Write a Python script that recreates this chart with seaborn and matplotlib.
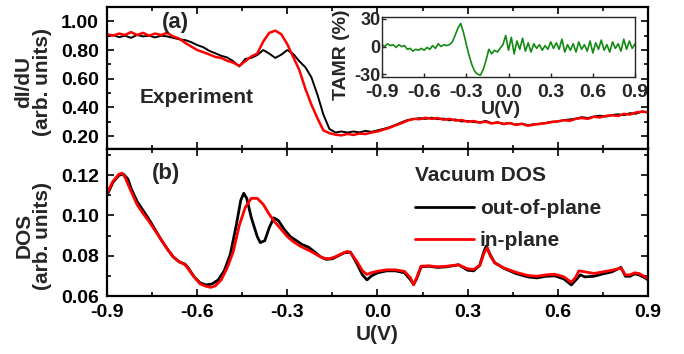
import numpy as np
import seaborn as sns
import matplotlib
matplotlib.use("Agg")
import matplotlib.pyplot as plt
from matplotlib.ticker import MultipleLocator, FormatStrFormatter

# ---- experiment (a): dI/dU, sampled every 0.02 V from -0.9 to 0.9
u_exp = np.round(np.linspace(-0.9, 0.9, 91), 2)
didu_out = [
    0.895, 0.905, 0.890, 0.900, 0.885, 0.905, 0.895, 0.900, 0.888, 0.900,
    0.895, 0.885, 0.875, 0.870, 0.855, 0.835, 0.820, 0.795, 0.778, 0.760,
    0.748, 0.722, 0.685, 0.738, 0.745, 0.765, 0.800, 0.775, 0.745, 0.768,
    0.800, 0.772, 0.722, 0.680, 0.610, 0.490, 0.350, 0.250, 0.225, 0.232,
    0.225, 0.232, 0.226, 0.236, 0.230, 0.240, 0.250, 0.262, 0.278, 0.296,
    0.312, 0.318, 0.325, 0.320, 0.328, 0.318, 0.322, 0.310, 0.316, 0.302,
    0.306, 0.298, 0.295, 0.306, 0.290, 0.296, 0.285, 0.292, 0.280, 0.287,
    0.276, 0.282, 0.286, 0.292, 0.300, 0.302, 0.312, 0.316, 0.322, 0.332,
    0.326, 0.336, 0.342, 0.336, 0.347, 0.352, 0.346, 0.360, 0.356, 0.372,
    0.366,
]
didu_in = [
    0.910, 0.900, 0.915, 0.905, 0.925, 0.905, 0.920, 0.900, 0.915, 0.905,
    0.920, 0.895, 0.880, 0.850, 0.825, 0.800, 0.785, 0.770, 0.752, 0.745,
    0.725, 0.712, 0.690, 0.722, 0.755, 0.775, 0.860, 0.920, 0.935, 0.910,
    0.840, 0.750, 0.660, 0.530, 0.420, 0.325, 0.240, 0.220, 0.210, 0.205,
    0.215, 0.208, 0.218, 0.214, 0.225, 0.232, 0.245, 0.258, 0.275, 0.290,
    0.308, 0.320, 0.318, 0.328, 0.320, 0.326, 0.314, 0.320, 0.308, 0.312,
    0.300, 0.305, 0.294, 0.300, 0.288, 0.295, 0.284, 0.290, 0.278, 0.285,
    0.272, 0.280, 0.285, 0.290, 0.298, 0.303, 0.310, 0.307, 0.320, 0.326,
    0.320, 0.335, 0.330, 0.341, 0.345, 0.340, 0.355, 0.350, 0.365, 0.370,
    0.366,
]
tamr = [
    2, 0, 3, 1, 2, -1, 2, 0, 1, -3,
    -2, -5, -3, -4, -2, -4, -1, -3, 1, -2,
    3, 0, 2, 1, 2, 5, 12, 20, 25, 15,
    2, -10, -20, -27, -30, -31, -25, -15, -3, -8,
    -4, -6, -2, 2, 12, -4, 10, -8, 6, -3,
    9, -5, 4, -6, 3, -2, 2, -4, 1, -3,
    5, -2, 4, -3, 8, -6, 2, -4, 3, -6,
    5, -3, 2, -5, 6, -7, 4, -3, 7, -4,
    2, -6, 5, -2, 3, -5, 8, -3, 6, -2,
    3,
]

# ---- theory (b): vacuum DOS
u_dos_out = [
    -0.90, -0.88, -0.86, -0.845, -0.83, -0.82, -0.80, -0.78, -0.76, -0.74,
    -0.72, -0.70, -0.68, -0.66, -0.64, -0.63, -0.61, -0.59, -0.57, -0.55,
    -0.53, -0.51, -0.49, -0.47, -0.455, -0.445, -0.435, -0.42, -0.40, -0.39,
    -0.375, -0.36, -0.345, -0.33, -0.31, -0.29, -0.27, -0.25, -0.23, -0.21,
    -0.19, -0.17, -0.15, -0.13, -0.11, -0.09, -0.07, -0.05, -0.035, -0.02,
    0.00, 0.03, 0.06, 0.09, 0.11, 0.12, 0.13, 0.145, 0.17, 0.20,
    0.23, 0.27, 0.30, 0.32, 0.34, 0.355, 0.362, 0.375, 0.39, 0.42,
    0.46, 0.50, 0.53, 0.56, 0.59, 0.62, 0.645, 0.66, 0.675, 0.69,
    0.72, 0.75, 0.78, 0.80, 0.81, 0.825, 0.84, 0.855, 0.87, 0.89, 0.90,
]
dos_out = [
    0.1100, 0.1165, 0.1200, 0.1205, 0.1180, 0.1135, 0.1070, 0.1025, 0.0980, 0.0930,
    0.0880, 0.0835, 0.0795, 0.0770, 0.0758, 0.0740, 0.0695, 0.0665, 0.0655, 0.0660,
    0.0680, 0.0725, 0.0805, 0.0950, 0.1075, 0.1110, 0.1085, 0.0990, 0.0895, 0.0865,
    0.0875, 0.0940, 0.0988, 0.0975, 0.0930, 0.0895, 0.0875, 0.0855, 0.0843, 0.0820,
    0.0795, 0.0782, 0.0785, 0.0800, 0.0815, 0.0818, 0.0765, 0.0705, 0.0680, 0.0700,
    0.0715, 0.0725, 0.0725, 0.0715, 0.0680, 0.0658, 0.0685, 0.0745, 0.0748, 0.0742,
    0.0745, 0.0755, 0.0728, 0.0725, 0.0752, 0.0825, 0.0848, 0.0805, 0.0765, 0.0738,
    0.0712, 0.0695, 0.0690, 0.0698, 0.0700, 0.0685, 0.0655, 0.0680, 0.0705, 0.0695,
    0.0698, 0.0710, 0.0720, 0.0735, 0.0742, 0.0698, 0.0698, 0.0710, 0.0705, 0.0690, 0.0680,
]
u_dos_in = [
    -0.90, -0.88, -0.86, -0.85, -0.84, -0.82, -0.80, -0.78, -0.76, -0.74,
    -0.72, -0.70, -0.68, -0.66, -0.64, -0.63, -0.61, -0.59, -0.57, -0.555,
    -0.54, -0.52, -0.50, -0.48, -0.46, -0.44, -0.42, -0.40, -0.38, -0.36,
    -0.34, -0.32, -0.30, -0.28, -0.26, -0.24, -0.22, -0.20, -0.18, -0.16,
    -0.14, -0.12, -0.10, -0.09, -0.07, -0.05, -0.035, -0.02, 0.00, 0.03,
    0.06, 0.09, 0.11, 0.12, 0.13, 0.145, 0.17, 0.20, 0.23, 0.27,
    0.30, 0.32, 0.34, 0.355, 0.365, 0.375, 0.39, 0.42, 0.46, 0.50,
    0.53, 0.56, 0.59, 0.62, 0.645, 0.66, 0.67, 0.69, 0.72, 0.75,
    0.78, 0.80, 0.81, 0.825, 0.84, 0.855, 0.87, 0.89, 0.90,
]
dos_in = [
    0.1110, 0.1170, 0.1205, 0.1210, 0.1190, 0.1120, 0.1055, 0.1010, 0.0970, 0.0925,
    0.0880, 0.0835, 0.0795, 0.0770, 0.0755, 0.0735, 0.0695, 0.0660, 0.0648, 0.0643,
    0.0650, 0.0680, 0.0740, 0.0820, 0.0950, 0.1040, 0.1085, 0.1085, 0.1055, 0.1005,
    0.0965, 0.0930, 0.0895, 0.0870, 0.0850, 0.0835, 0.0820, 0.0803, 0.0788, 0.0785,
    0.0795, 0.0810, 0.0822, 0.0815, 0.0775, 0.0725, 0.0707, 0.0716, 0.0723, 0.0730,
    0.0730, 0.0722, 0.0690, 0.0655, 0.0690, 0.0748, 0.0750, 0.0745, 0.0748, 0.0755,
    0.0735, 0.0732, 0.0752, 0.0815, 0.0840, 0.0800, 0.0765, 0.0740, 0.0718, 0.0702,
    0.0698, 0.0705, 0.0708, 0.0695, 0.0668, 0.0695, 0.0725, 0.0720, 0.0712, 0.0720,
    0.0728, 0.0735, 0.0738, 0.0705, 0.0705, 0.0715, 0.0712, 0.0695, 0.0685,
]

sns.set_theme(style="ticks")
plt.rcParams["font.family"] = ["Liberation Sans", "DejaVu Sans"]
plt.rcParams["font.weight"] = "bold"
plt.rcParams["axes.labelweight"] = "bold"
plt.rcParams["axes.unicode_minus"] = False

RED = "#ff0000"
GREEN = "#138a13"


def style_axis(ax, lw=1.6, labelsize=14):
    for s in ax.spines.values():
        s.set_linewidth(lw)
        s.set_color("black")
    ax.tick_params(which="both", direction="in", top=True, right=True,
                   colors="black", labelsize=labelsize, width=1.2)
    ax.tick_params(which="major", length=5, pad=6)
    ax.tick_params(which="minor", length=3)


fig = plt.figure(figsize=(6.84, 3.54), dpi=100)
ax1 = fig.add_axes([0.1564, 0.5791, 0.791, 0.4011])
ax2 = fig.add_axes([0.1564, 0.1638, 0.791, 0.4153])
axin = fig.add_axes([0.5585, 0.7825, 0.3699, 0.1695])

# (a) experiment
sns.lineplot(x=u_exp, y=didu_out, ax=ax1, color="black", lw=1.4)
sns.lineplot(x=u_exp, y=didu_in, ax=ax1, color=RED, lw=1.8)
ax1.set_xlim(-0.9, 0.9)
ax1.set_ylim(0.11, 1.10)
ax1.xaxis.set_major_locator(MultipleLocator(0.3))
ax1.xaxis.set_minor_locator(MultipleLocator(0.15))
ax1.yaxis.set_major_locator(MultipleLocator(0.2))
ax1.yaxis.set_minor_locator(MultipleLocator(0.1))
ax1.yaxis.set_major_formatter(FormatStrFormatter("%.2f"))
style_axis(ax1)
ax1.tick_params(labelbottom=False)
ax1.set_ylabel("dI/dU\n(arb. units)", fontsize=15, linespacing=0.95)
ax1.yaxis.set_label_coords(-0.102, 0.47)
ax1.text(0.126, 0.894, "(a)", transform=ax1.transAxes, ha="center",
         va="center", fontsize=16, fontweight="bold")
ax1.text(0.165, 0.366, "Experiment", transform=ax1.transAxes, ha="center",
         va="center", fontsize=15, fontweight="bold")

# inset: TAMR
sns.lineplot(x=u_exp, y=tamr, ax=axin, color=GREEN, lw=1.2)
axin.set_xlim(-0.9, 0.9)
axin.set_ylim(-33, 32)
axin.xaxis.set_major_locator(MultipleLocator(0.3))
axin.yaxis.set_major_locator(MultipleLocator(30))
axin.xaxis.set_major_formatter(FormatStrFormatter("%.1f"))
for s in axin.spines.values():
    s.set_linewidth(1.0)
axin.tick_params(direction="in", length=3, width=1, labelsize=14, pad=5)
axin.tick_params(axis="y", labelsize=13, pad=1)
axin.set_xlabel("U(V)", fontsize=14)
axin.xaxis.set_label_coords(0.47, -0.40)
axin.set_ylabel("TAMR (%)", fontsize=14)
axin.yaxis.set_label_coords(-0.125, 0.37)

# (b) theory
sns.lineplot(x=u_dos_out, y=dos_out, ax=ax2, color="black", lw=2.0,
             label="out-of-plane", sort=False, estimator=None)
sns.lineplot(x=u_dos_in, y=dos_in, ax=ax2, color=RED, lw=2.0,
             label="in-plane", sort=False, estimator=None)
ax2.set_xlim(-0.9, 0.9)
ax2.set_ylim(0.06, 0.133)
ax2.xaxis.set_major_locator(MultipleLocator(0.3))
ax2.xaxis.set_minor_locator(MultipleLocator(0.15))
ax2.yaxis.set_major_locator(MultipleLocator(0.02))
ax2.yaxis.set_minor_locator(MultipleLocator(0.01))
ax2.xaxis.set_major_formatter(FormatStrFormatter("%.1f"))
ax2.yaxis.set_major_formatter(FormatStrFormatter("%.2f"))
style_axis(ax2)
ax2.set_xlabel("U(V)", fontsize=15)
ax2.xaxis.set_label_coords(0.5, -0.2)
ax2.set_ylabel("DOS\n(arb. units)", fontsize=15, linespacing=0.95)
ax2.yaxis.set_label_coords(-0.102, 0.41)
ax2.text(0.11, 0.83, "(b)", transform=ax2.transAxes, ha="center",
         va="center", fontsize=16, fontweight="bold")
leg = ax2.legend(loc="upper left", bbox_to_anchor=(0.57, 0.882), frameon=False,
                 title="Vacuum DOS", alignment="left", handlelength=2.8,
                 handletextpad=0.3, labelspacing=0.65, borderpad=0,
                 borderaxespad=0,
                 prop={"size": 15, "weight": "bold"},
                 title_fontproperties={"size": 15, "weight": "bold"})
for line in leg.get_lines():
    line.set_linewidth(2.0)

fig.savefig("out.png", dpi=100)
